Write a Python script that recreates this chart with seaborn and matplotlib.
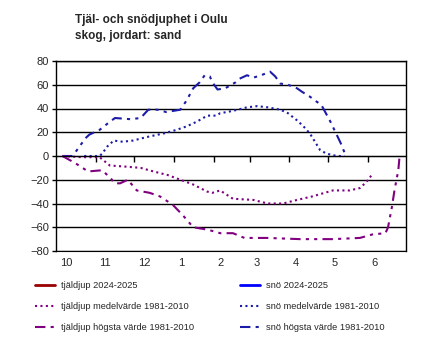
import numpy as np
import pandas as pd
import matplotlib
matplotlib.use('Agg')
import matplotlib.pyplot as plt
import seaborn as sns
from matplotlib.lines import Line2D

sns.set_style('white')
plt.rcParams['font.family'] = ['Liberation Sans', 'DejaVu Sans']

# x axis = days since 1 October
month_labels = ['10', '11', '12', '1', '2', '3', '4', '5', '6']
month_len = [31, 30, 31, 31, 28, 31, 30, 31, 30]

# snow depth, max 1981-2010 (cm)
snow_max_day = [5, 13, 23, 26, 34, 41, 46, 58, 66, 72, 79, 86, 97, 102, 107, 112, 116,
                120, 122, 126, 132, 140, 143, 149, 154, 160, 167, 171, 175, 181, 188,
                192, 198, 203, 207, 210, 214, 218, 222, 225, 227]
snow_max = [0, 0, 15, 18, 22, 28, 32, 31, 32, 39, 39, 37, 39, 47, 57, 62, 68,
            67, 62, 56, 57, 62, 65, 68, 66, 68, 71, 67, 61, 60, 57,
            54, 50, 46, 43, 37, 29, 20, 11, 3, 0]

# snow depth, mean 1981-2010
snow_mean_day = [22, 34, 36, 40, 45, 52, 60, 71, 84, 94, 102, 110, 118, 125, 128, 138,
                 149, 157, 165, 175, 181, 188, 193, 198, 202, 206, 211, 219, 225]
snow_mean = [0, 0, 2, 8, 13, 12, 13, 16, 19, 22, 25, 29, 34, 34, 36, 38,
             41, 42, 41, 39, 36, 30, 25, 19, 12, 5, 2, 0, 0]

# frost depth, mean 1981-2010 (negative = below ground)
frost_mean_day = [5, 20, 34, 42, 55, 66, 76, 87, 97, 107, 118, 122, 128, 138, 154, 165,
                  177, 188, 200, 216, 229, 237, 242, 247]
frost_mean = [0, -1, -1, -8, -9, -10, -13, -16, -20, -24, -30, -31, -29, -36, -37, -40,
              -40, -37, -34, -29, -29, -27, -22, -15]

# frost depth, max 1981-2010
frost_max_day = [5, 15, 25, 36, 42, 46, 50, 56, 63, 73, 81, 91, 99, 107, 118, 125, 128,
                 138, 147, 165, 190, 216, 237, 247, 257, 259, 262, 264, 267, 268]
frost_max = [0, -6, -13, -12, -18, -23, -23, -20, -29, -31, -34, -41, -50, -60, -62, -64, -65,
             -65, -69, -69, -70, -70, -69, -66, -65, -60, -43, -29, -12, 0]

purple = '#800080'
blue = '#1c1ca8'
dashdot = (0, (5, 2.5, 1.5, 2.5, 1.5, 2.5))
dotted = (0, (1, 1.6))

fig = plt.figure(figsize=(4.3, 3.52), dpi=100)
ax = fig.add_axes([56/430, 1-251/352, 350/430, 190/352])

sns.lineplot(x=snow_max_day, y=snow_max, ax=ax, color=blue, lw=1.5, linestyle=dashdot)
sns.lineplot(x=snow_mean_day, y=snow_mean, ax=ax, color=blue, lw=1.5, linestyle=dotted)
sns.lineplot(x=frost_mean_day, y=frost_mean, ax=ax, color=purple, lw=1.5, linestyle=dotted)
sns.lineplot(x=frost_max_day, y=frost_max, ax=ax, color=purple, lw=1.5, linestyle=dashdot)

month_start = np.concatenate([[0], np.cumsum(month_len)])
ax.set_xlim(0, month_start[-1])
ax.set_ylim(-80, 80)
ax.set_yticks(np.arange(-80, 81, 20))
ax.yaxis.grid(True, color='black', lw=1)
ax.set_axisbelow(True)
for s in ['top', 'right', 'left']:
    ax.spines[s].set_color('black')
    ax.spines[s].set_linewidth(1)
ax.spines['bottom'].set_position(('data', 0))
ax.spines['bottom'].set_color('black')
ax.set_xticks(month_start[1:-1])
ax.tick_params(axis='x', direction='out', length=4, width=1, color='black',
               labelbottom=False, bottom=True)
ax.tick_params(axis='y', direction='out', length=3, width=1, color='black',
               labelsize=8, pad=2, left=True)
ax.set_xlabel('')
ax.set_ylabel('')

sec = ax.secondary_xaxis(0.0)
sec.set_xticks(month_start[:-1] + 3, month_labels)
sec.tick_params(length=0, labelsize=8, pad=5)
for t in sec.get_xticklabels():
    t.set_horizontalalignment('left')
sec.spines['bottom'].set_color('black')

fig.text(75/430, 1-20/352, 'Tjäl- och snödjuphet i Oulu', fontsize=8.5,
         fontweight='bold', va='center', ha='left')
fig.text(75/430, 1-36/352, 'skog, jordart: sand', fontsize=8.5,
         fontweight='bold', va='center', ha='left')

left_handles = [Line2D([], [], color='#990000', lw=2),
                Line2D([], [], color=purple, lw=1.5, linestyle=dotted),
                Line2D([], [], color=purple, lw=1.5, linestyle=dashdot)]
left_labels = ['tjäldjup 2024-2025', 'tjäldjup medelvärde 1981-2010',
               'tjäldjup högsta värde 1981-2010']
right_handles = [Line2D([], [], color='#0000ff', lw=2),
                 Line2D([], [], color=blue, lw=1.5, linestyle=dotted),
                 Line2D([], [], color=blue, lw=1.5, linestyle=dashdot)]
right_labels = ['snö 2024-2025', 'snö medelvärde 1981-2010',
                'snö högsta värde 1981-2010']

for h, l, x0 in [(left_handles, left_labels, 35/430), (right_handles, right_labels, 240/430)]:
    fig.legend(h, l, loc='upper left', bbox_to_anchor=(x0, 1-281/352), frameon=False,
               fontsize=6.7, handlelength=2.1, handletextpad=0.7, labelspacing=1.3,
               borderpad=0, borderaxespad=0)

fig.savefig('out.png', dpi=100)
